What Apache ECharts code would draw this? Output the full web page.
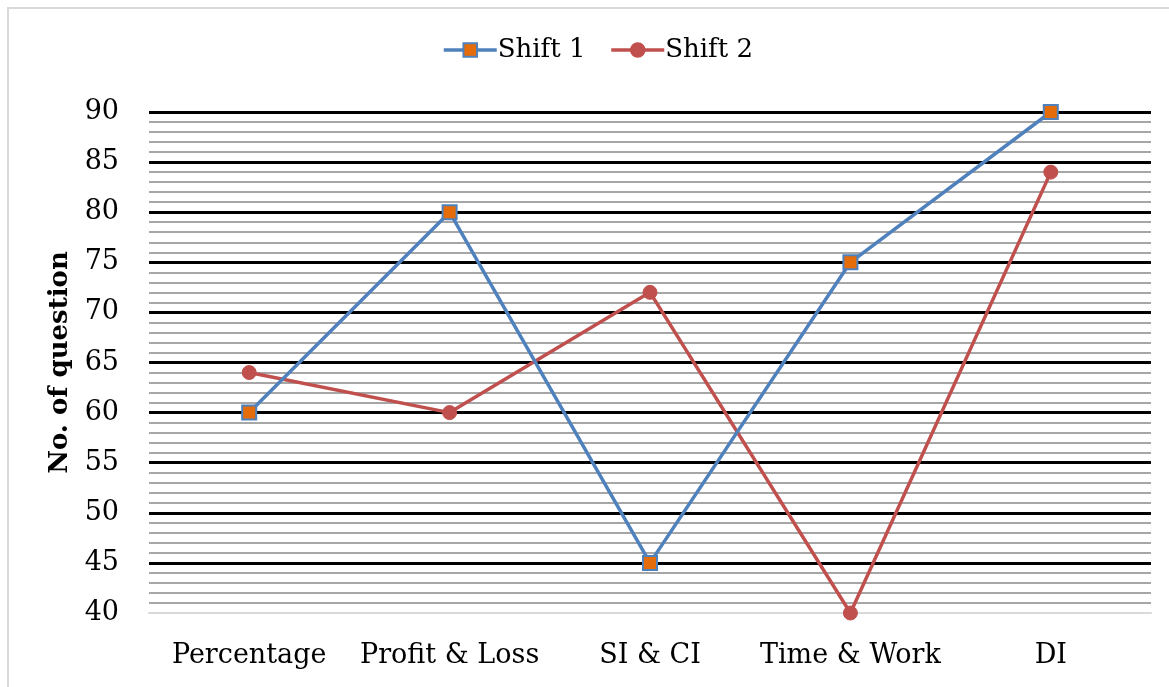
<!DOCTYPE html>
<html>
<head>
<meta charset="utf-8">
<script src="https://cdn.jsdelivr.net/npm/echarts@6/dist/echarts.min.js"></script>
<style>
html,body{margin:0;padding:0;background:#fff;}
#chart{width:1169px;height:687px;}
</style>
</head>
<body>
<div id="chart"></div>
<script>
const categories = ['Percentage', 'Profit & Loss', 'SI & CI', 'Time & Work', 'DI'];
const shift1 = [60, 80, 45, 75, 90];
const shift2 = [64, 60, 72, 40, 84];
const yTitle = 'No. of question';
const FONT = 'DejaVu Serif';

const chart = echarts.init(document.getElementById('chart'), null, {renderer: 'canvas'});
chart.setOption({
  backgroundColor: '#fff',
  animation: false,
  graphic: [{
    type: 'rect', z: -1,
    shape: {x: 8, y: 8, width: 1180, height: 700},
    style: {fill: 'none', stroke: '#D9D9D9', lineWidth: 2}
  }],
  legend: {
    top: 32, left: 437,
    itemWidth: 53, itemHeight: 17, itemGap: 24,
    textStyle: {fontFamily: FONT, fontSize: 26, color: '#000', padding: [0, 0, 0, -4]},
    lineStyle: {width: 3.5},
    data: ['Shift 1', 'Shift 2']
  },
  grid: {left: 149, right: 18, top: 112, bottom: 74, containLabel: false},
  xAxis: {
    type: 'category', data: categories, boundaryGap: true,
    axisLine: {show: true, lineStyle: {color: '#D9D9D9', width: 2}},
    axisTick: {show: false},
    axisLabel: {fontFamily: FONT, fontSize: 27, color: '#000', margin: 29, interval: 0}
  },
  yAxis: {
    type: 'value', min: 40, max: 90, interval: 5,
    name: yTitle, nameLocation: 'middle', nameGap: 72,
    nameTextStyle: {fontFamily: FONT, fontSize: 26, fontWeight: 'bold', color: '#000'},
    axisLine: {show: false}, axisTick: {show: false},
    axisLabel: {fontFamily: FONT, fontSize: 27, color: '#000', margin: 30},
    splitLine: {show: true, showMinLine: false, lineStyle: {color: '#000', width: 3}},
    minorTick: {show: false, splitNumber: 5},
    minorSplitLine: {show: true, lineStyle: {color: '#A6A6A6', width: 2}}
  },
  series: [{
    name: 'Shift 1', type: 'line', data: shift1,
    symbol: 'rect', symbolSize: 14,
    lineStyle: {color: '#4F81BD', width: 3.5},
    itemStyle: {color: '#E46C0A', borderColor: '#4F81BD', borderWidth: 2},
    z: 3
  }, {
    name: 'Shift 2', type: 'line', data: shift2,
    symbol: 'circle', symbolSize: 14,
    lineStyle: {color: '#C0504D', width: 3.5},
    itemStyle: {color: '#C0504D', borderColor: '#C0504D', borderWidth: 1},
    z: 2
  }]
});
</script>
</body>
</html>
